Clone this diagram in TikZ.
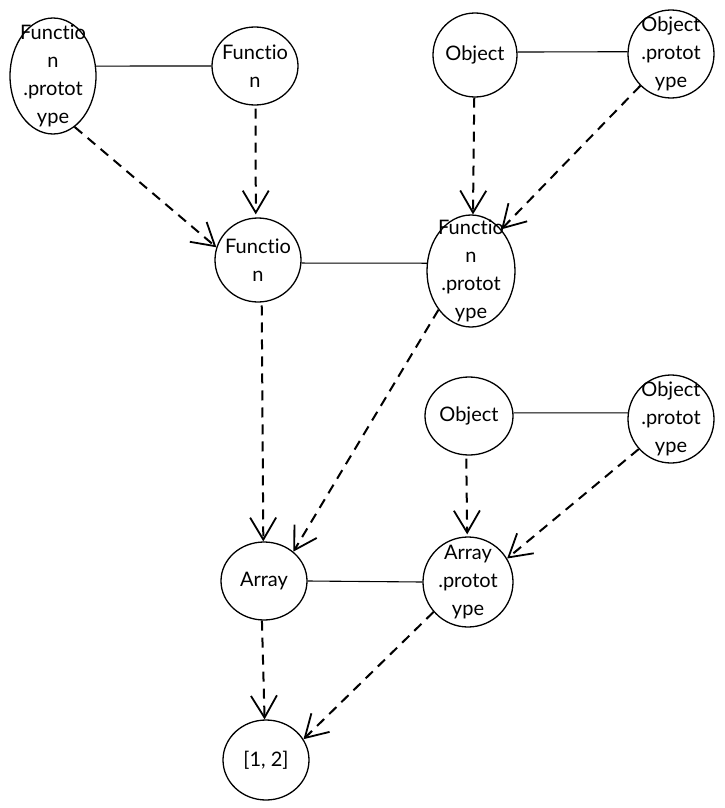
\documentclass[tikz,border=0pt]{standalone}
\usepackage{fontspec}
\setmainfont{Lato}[Ligatures={NoCommon}]
\usetikzlibrary{shapes.geometric,arrows.meta}
\tikzset{
  bub/.style={ellipse, draw=black, line width=1.3pt, inner sep=0pt},
  txt/.style={align=center, inner sep=0pt, font=\fontsize{20}{28}\selectfont},
  link/.style={draw=black, line width=1.1pt},
  inh/.style={draw=black, line width=2pt, dash pattern=on 10pt off 7pt,
    -{Straight Barb[length=22pt,width=26pt,line width=1.8pt]}}
}
\begin{document}
\begin{tikzpicture}[x=1pt,y=-1pt]
\useasboundingbox (0,0) rectangle (725,808);
% bubbles
\node[bub, minimum width=86pt, minimum height=116pt] (fp1) at (53,76) {};
\node[bub, minimum width=86pt, minimum height=78pt] (f1) at (255,66) {};
\node[bub, minimum width=84pt, minimum height=84pt] (o1) at (475,55) {};
\node[bub, minimum width=86pt, minimum height=88pt] (op1) at (671,54) {};
\node[bub, minimum width=86pt, minimum height=84pt] (f2) at (258,260) {};
\node[bub, minimum width=88pt, minimum height=112pt] (fp2) at (471,271) {};
\node[bub, minimum width=88pt, minimum height=78pt] (o2) at (469,416) {};
\node[bub, minimum width=86pt, minimum height=88pt] (op2) at (671,419) {};
\node[bub, minimum width=86pt, minimum height=78pt] (arr) at (264,581) {};
\node[bub, minimum width=90pt, minimum height=90pt] (ap) at (468,582) {};
\node[bub, minimum width=86pt, minimum height=80pt] (res) at (266,760) {};
% texts
\node[txt] (fp1t) at (fp1) {Functio\\n\\.protot\\ype};
\node[txt] (f1t) at (f1) {Functio\\n};
\node[txt] (o1t) at (o1) {Object};
\node[txt] (op1t) at (op1) {Object\\.protot\\ype};
\node[txt] (f2t) at (f2) {Functio\\n};
\node[txt] (fp2t) at (fp2) {Functio\\n\\.protot\\ype};
\node[txt] (o2t) at (o2) {Object};
\node[txt] (op2t) at (op2) {Object\\.protot\\ype};
\node[txt] (arrt) at (arr) {Array};
\node[txt] (apt) at (ap) {Array\\.protot\\ype};
\node[txt] (rest) at (res) {[1, 2]};
% solid links
\draw[link] (fp1.13) -- (f1.180);
\draw[link] (o1.4) -- (op1.177);
\draw[link] (f2.-4) -- (fp2.170);
\draw[link] (o2.4) -- (op2.172);
\draw[link] (arr.0) -- (ap.180);
% dashed arrows
\draw[inh] (fp1.-67) -- (f2.163);
\draw[inh, shorten <=3pt, shorten >=3pt] (f1.-89) -- (f2.93);
\draw[inh] (o1.-91) -- (fp2.88);
\draw[inh] (op1.-134) -- (fp2.54);
\draw[inh, shorten <=3pt] (f2.-85) -- (arr.91);
\draw[inh] (fp2.-130) -- (arr.45);
\draw[inh, shorten <=3pt, shorten >=2pt] (o2.-94) -- (ap.91);
\draw[inh] (op2.-137) -- (ap.31);
\draw[inh] (arr.-93) -- (res.92);
\draw[inh] (ap.-139) -- (res.29);
\end{tikzpicture}
\end{document}
